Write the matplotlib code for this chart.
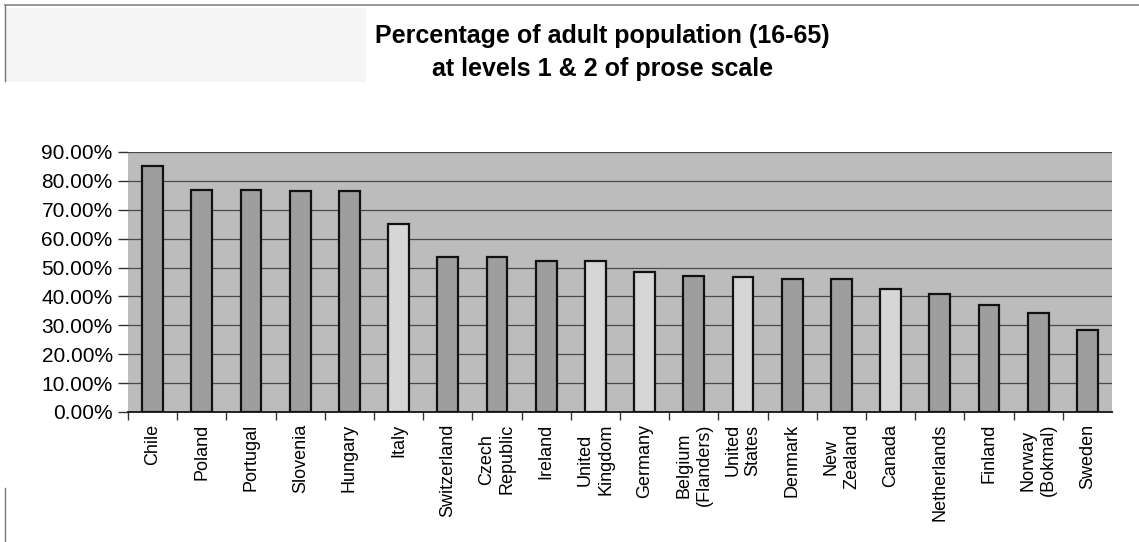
import matplotlib

matplotlib.use("Agg")
import matplotlib.pyplot as plt
from matplotlib.patches import Rectangle
from matplotlib.ticker import FuncFormatter, MultipleLocator, FixedLocator

countries = ["Chile", "Poland", "Portugal", "Slovenia", "Hungary", "Italy",
             "Switzerland", "Czech\nRepublic", "Ireland", "United\nKingdom",
             "Germany", "Belgium\n(Flanders)", "United\nStates", "Denmark",
             "New\nZealand", "Canada", "Netherlands", "Finland",
             "Norway\n(Bokmal)", "Sweden"]
share = [85.2, 76.8, 76.8, 76.4, 76.4, 65.0, 53.7, 53.8, 52.3, 52.4,
         48.5, 47.2, 46.7, 46.0, 46.2, 42.4, 40.9, 37.2, 34.1, 28.5]
# the pale bars pick out the languages surveyed twice
pale = ["Italy", "United\nKingdom", "Germany", "United\nStates", "Canada"]

DARK = "#9e9e9e"
LIGHT = "#d6d6d6"
PANEL = "#bcbcbc"

plt.rcParams["font.family"] = ["Liberation Sans", "DejaVu Sans"]

fig = plt.figure(figsize=(11.39, 5.42), dpi=100)

# faint grey patch and frame lines of the page around the figure
fig.add_artist(Rectangle((0.004, 0.848), 0.317, 0.138, transform=fig.transFigure,
                         facecolor="#f5f5f5", edgecolor="none", zorder=0))
fig.add_artist(plt.Line2D([0.004, 1.0], [0.99, 0.99], color="#888888", lw=1.2))
fig.add_artist(plt.Line2D([0.004, 0.004], [0.85, 0.99], color="#777777", lw=1))
fig.add_artist(plt.Line2D([0.004, 0.004], [0.0, 0.1], color="#777777", lw=1))

ax = fig.add_axes([0.1124, 0.2399, 0.8639, 0.4797])
ax.set_facecolor(PANEL)

x = range(len(countries))
colors = [LIGHT if c in pale else DARK for c in countries]
ax.bar(x, share, 0.42, color=colors, edgecolor="#111111", linewidth=1.6,
       zorder=3)

ax.set_xlim(-0.5, len(countries) - 0.5)
ax.set_ylim(0, 90)
ax.yaxis.set_major_locator(MultipleLocator(10))
ax.yaxis.set_major_formatter(FuncFormatter(lambda v, _: f"{v:.2f}%"))
ax.grid(axis="y", color="#4a4a4a", lw=0.9, zorder=1)
ax.tick_params(axis="y", labelsize=15, length=7, width=1, color="#333333",
               pad=4)

# category ticks sit on the boundaries; names go at the centres
ax.xaxis.set_major_locator(FixedLocator([i + 0.5 for i in x][:-1] + [-0.5]))
ax.xaxis.set_major_formatter(FuncFormatter(lambda v, _: ""))
ax.tick_params(axis="x", length=6, width=1, color="#333333")
for i, name in enumerate(countries):
    ax.text(i, -4.2, name, rotation=90, ha="center", va="top",
            fontsize=13, linespacing=1.25)

for side in ("top", "right", "left"):
    ax.spines[side].set_visible(False)
ax.spines["bottom"].set_color("#222222")
ax.spines["bottom"].set_linewidth(1.4)

fig.text(0.529, 0.955, "Percentage of adult population (16-65)\n"
         "at levels 1 & 2 of prose scale", ha="center", va="top",
         fontsize=18, fontweight="bold", linespacing=1.45)

fig.savefig("out.png", dpi=100)
